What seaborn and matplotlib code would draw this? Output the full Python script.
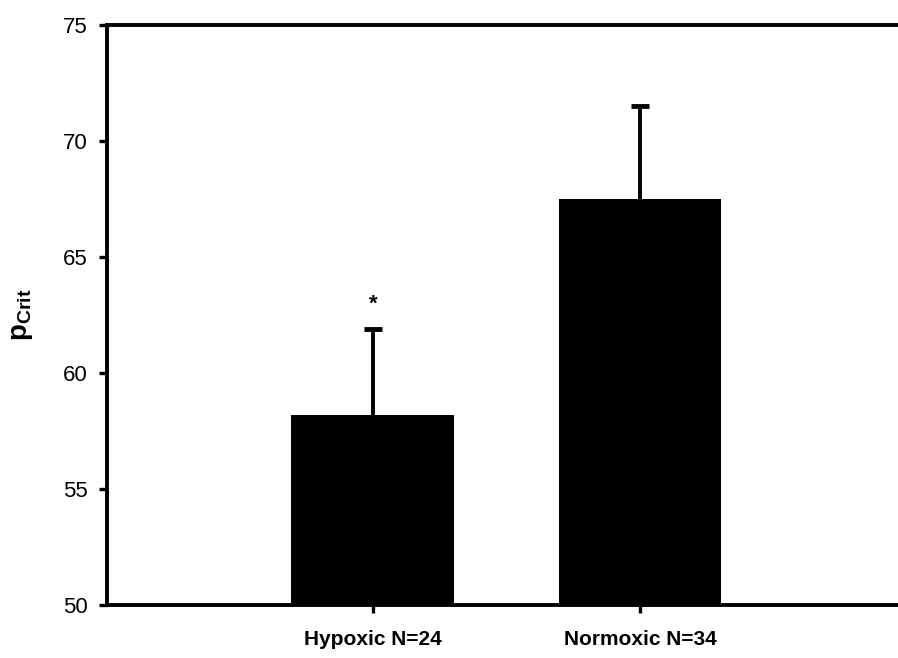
import matplotlib
matplotlib.use("Agg")
import matplotlib.pyplot as plt
import seaborn as sns
import pandas as pd

# Critical oxygen tension by rearing group (mean + SE)
groups = ["Hypoxic N=24", "Normoxic N=34"]
pcrit_mean = [58.2, 67.5]
pcrit_se = [3.7, 4.0]
significance = ["*", ""]
y_ticks = [50, 55, 60, 65, 70, 75]

sns.set_theme(style="white")
plt.rcParams["font.family"] = ["Liberation Sans", "DejaVu Sans"]
plt.rcParams["text.color"] = "black"
plt.rcParams["axes.labelcolor"] = "black"
plt.rcParams["xtick.color"] = "black"
plt.rcParams["ytick.color"] = "black"
plt.rcParams["mathtext.fontset"] = "custom"
plt.rcParams["mathtext.rm"] = "Liberation Sans:bold"
plt.rcParams["mathtext.it"] = "Liberation Sans:bold"
plt.rcParams["mathtext.bf"] = "Liberation Sans:bold"

df = pd.DataFrame({"group": groups, "pcrit": pcrit_mean})

fig = plt.figure(figsize=(8.98, 6.58), dpi=100)
ax = fig.add_axes([0.119, 0.0805, 0.881, 0.8815])

sns.barplot(data=df, x="group", y="pcrit", color="black", saturation=1,
            width=0.61, errorbar=None, linewidth=0, ax=ax, zorder=3)

# SE whiskers sit behind the bars so only the upper half shows
xpos = list(range(len(groups)))
ax.errorbar(xpos, pcrit_mean, yerr=pcrit_se, fmt="none",
            ecolor="black", elinewidth=2.8, capsize=6.5, capthick=3.5, zorder=2)

for x, m, s, mark in zip(xpos, pcrit_mean, pcrit_se, significance):
    if mark:
        ax.text(x, m + s + 0.6, mark, ha="center", va="bottom",
                fontsize=16, fontweight="bold", color="black")

ax.set_ylim(50, 75)
ax.set_xlim(-0.996, 1.966)
ax.set_yticks(y_ticks)
ax.set_xlabel("")
ax.set_ylabel(r"p$_{\mathrm{Crit}}$", fontsize=20, fontweight="bold",
              labelpad=20, color="black")

for side in ["left", "bottom", "top"]:
    ax.spines[side].set_visible(True)
    ax.spines[side].set_color("black")
    ax.spines[side].set_linewidth(2.8)
ax.spines["right"].set_visible(False)

ax.tick_params(axis="y", direction="out", length=6, width=2.4, colors="black",
               labelsize=16, pad=8, left=True)
ax.tick_params(axis="x", direction="out", length=6, width=2.4, colors="black",
               labelsize=15, pad=12, bottom=True)
for lbl in ax.get_xticklabels():
    lbl.set_fontweight("bold")

fig.savefig("out.png", dpi=100, facecolor="white")
